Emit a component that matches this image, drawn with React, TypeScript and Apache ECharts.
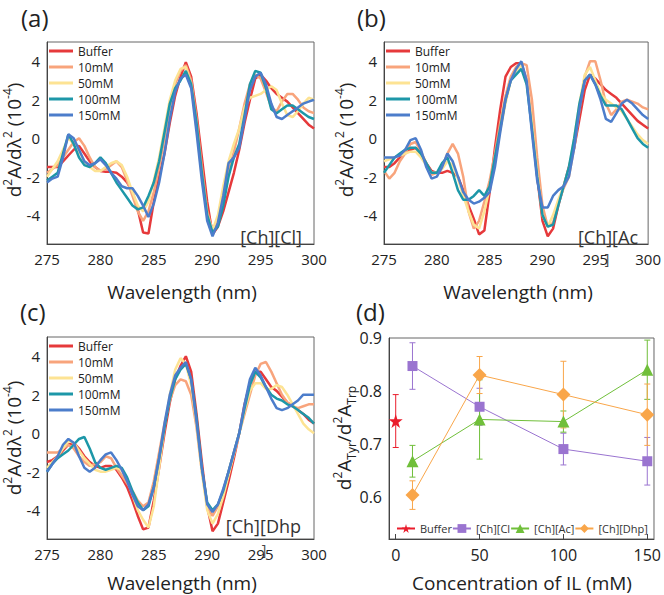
import React, { useEffect, useRef } from "react";
import * as echarts from "echarts";

// ---------- data ----------
const wavelengths = [
  275, 275.5, 276, 276.5, 277, 277.5, 278, 278.5, 279, 279.5,
  280, 280.5, 281, 281.5, 282, 282.5, 283, 283.5, 284, 284.5,
  285, 285.5, 286, 286.5, 287, 287.5, 288, 288.5, 289, 289.5,
  290, 290.5, 291, 291.5, 292, 292.5, 293, 293.5, 294, 294.5,
  295, 295.5, 296, 296.5, 297, 297.5, 298, 298.5, 299, 299.5,
  300,
];

const specNames = ["Buffer", "10mM", "50mM", "100mM", "150mM"];
const xTicks = [275, 280, 285, 290, 295, 300];
const yTicksSpec = [-4, -2, 0, 2, 4];

// Panel (a) [Ch][Cl]
const aBuffer = [
  -1.5, -1.5, -1.5, -1.2, -0.9, -0.6, -0.4, -0.8, -1.2, -1.5,
  -1.7, -1.75, -1.75, -1.8, -2.0, -2.3, -2.8, -3.7, -4.9, -4.95,
  -3.3, -2.0, -0.8, 0.8, 2.2, 3.2, 3.95, 3.2, 1.3, -1.0,
  -3.3, -5.0, -4.6, -3.8, -2.8, -1.8, -0.6, 0.8, 2.0, 3.1,
  3.3, 3.0, 2.6, 2.3, 2.1, 1.9, 1.6, 1.3, 1.0, 0.7,
  0.5,
];
const a10 = [
  -1.8, -1.6, -1.4, -1.0, -0.6, -0.2, 0.0, -0.4, -1.0, -1.5,
  -1.7, -1.6, -1.4, -1.2, -1.5, -2.2, -3.0, -3.8, -4.3, -3.8,
  -2.8, -1.5, 0.0, 1.6, 2.8, 3.5, 3.8, 3.0, 1.0, -1.5,
  -3.8, -4.8, -4.2, -3.0, -1.8, -0.7, 0.5, 1.8, 2.8, 3.3,
  3.1, 2.4, 1.6, 1.4, 1.9, 2.3, 2.3, 2.0, 1.6, 1.4,
  1.3,
];
const a50 = [
  -2.0, -1.6, -1.2, -0.6, 0.0, -0.3, -0.7, -1.2, -1.5, -1.7,
  -1.7, -1.5, -1.3, -1.2, -1.4, -2.0, -2.8, -3.5, -3.8, -3.3,
  -2.2, -1.0, 0.5, 2.0, 3.0, 3.6, 3.7, 2.8, 0.5, -2.0,
  -4.0, -4.8, -4.0, -2.5, -1.2, -0.3, 0.5, 1.6, 2.1, 2.2,
  2.3, 2.5, 2.7, 2.5, 1.8, 1.2, 1.1, 1.4, 1.8, 2.1,
  2.0,
];
const a100 = [
  -2.2, -2.0, -1.8, -0.8, 0.2, -0.3, -1.0, -1.4, -1.5, -1.3,
  -1.0, -1.3, -1.8, -2.3, -2.7, -3.1, -3.5, -3.7, -3.6, -3.0,
  -2.3, -1.2, 0.3, 1.8, 2.6, 3.0, 3.5, 2.8, 0.8, -1.8,
  -4.0, -4.9, -4.6, -3.5, -2.0, -1.0, -0.3, 1.2, 2.8, 3.5,
  3.4, 2.6, 1.5, 1.3, 1.5, 1.7, 1.7, 1.5, 1.3, 1.1,
  1.0,
];
const a150 = [
  -2.3, -2.1, -2.0, -1.0, 0.2, 0.0, -0.6, -1.2, -1.4, -1.3,
  -1.1, -1.4, -1.8, -2.1, -2.5, -2.6, -2.6, -3.0, -3.5, -4.1,
  -3.4, -2.3, -0.8, 1.0, 2.4, 3.1, 3.3, 2.6, 0.3, -2.2,
  -4.3, -5.1, -4.4, -3.0, -1.3, -1.0, -0.5, 1.0, 2.5, 3.2,
  3.4, 2.8, 1.8, 1.1, 1.0, 1.2, 1.4, 1.6, 1.8, 1.9,
  2.0,
];

// Panel (b) [Ch][Ac]
const bBuffer = [
  -1.5, -1.5, -1.3, -1.0, -0.8, -0.6, -0.5, -0.8, -1.3, -1.7,
  -1.8, -1.8, -1.7, -1.8, -2.0, -2.7, -3.5, -4.2, -5.0, -4.8,
  -2.8, -0.5, 1.5, 3.2, 3.7, 3.9, 3.9, 3.0, 0.8, -2.0,
  -4.3, -5.1, -4.7, -3.5, -2.5, -1.5, -0.5, 1.0, 2.5, 3.3,
  3.1, 2.8, 2.5, 2.3, 2.1, 1.8, 1.5, 1.2, 0.9, 0.7,
  0.5,
];
const b10 = [
  -1.7, -2.1, -1.8, -1.2, -0.8, -0.3, -0.2, -0.7, -1.3, -1.9,
  -1.8, -1.5, -0.8, -0.3, -0.8, -2.0, -3.8, -4.7, -4.3, -3.3,
  -2.2, -0.8, 0.8, 2.2, 3.2, 3.7, 3.9, 3.8, 2.0, -1.0,
  -3.5, -4.6, -4.4, -3.4, -2.6, -2.0, -0.5, 1.5, 3.2, 4.0,
  4.0, 3.0, 1.8, 1.2, 1.5, 1.9, 2.0, 1.9, 1.8, 1.6,
  1.5,
];
const b50 = [
  -1.2, -1.1, -1.0, -0.9, -0.8, -0.7, -0.7, -1.0, -1.4, -1.8,
  -1.8, -1.6, -1.2, -1.4, -2.1, -3.0, -3.8, -4.5, -4.7, -3.8,
  -2.6, -1.2, 0.4, 1.8, 3.0, 3.5, 3.8, 3.0, 0.8, -1.8,
  -4.0, -4.6, -4.0, -3.2, -2.5, -1.6, 0.0, 1.8, 3.3, 3.7,
  3.0, 2.3, 2.0, 1.8, 1.6, 1.4, 1.0, 0.6, 0.2, -0.1,
  -0.3,
];
const b100 = [
  -1.8, -1.4, -1.0, -0.8, -0.6, -0.5, -0.5, -0.8, -1.3, -1.8,
  -1.8, -1.3, -1.0, -1.8, -2.7, -3.2, -3.2, -3.0, -2.7, -3.0,
  -2.5, -1.0, 0.5, 2.0, 3.0, 3.3, 3.6, 2.8, 0.5, -2.0,
  -4.0, -4.6, -4.5, -3.5, -2.5, -1.5, 0.0, 1.8, 3.0, 3.3,
  2.8, 2.2, 1.7, 1.7, 1.7, 1.5, 1.0, 0.5, 0.0, -0.3,
  -0.5,
];
const b150 = [
  -1.0, -1.0, -1.0, -0.9, -0.6, -0.1, 0.0, -0.6, -1.5, -2.1,
  -2.0, -1.5, -0.8, -1.2, -2.0, -2.8, -3.2, -3.4, -3.3, -3.1,
  -2.8, -1.5, 0.3, 2.0, 3.0, 3.6, 4.0, 3.0, 0.3, -2.2,
  -3.6, -3.6, -3.0, -2.7, -2.5, -2.0, -0.5, 1.5, 3.0, 3.3,
  2.8, 2.0, 1.0, 0.85, 1.3, 1.8, 2.0, 1.8, 1.5, 1.2,
  1.0,
];

// Panel (c) [Ch][Dhp]
const cBuffer = [
  -1.5, -1.4, -1.2, -0.9, -0.6, -0.5, -0.8, -1.2, -1.5, -1.7,
  -1.8, -1.7, -1.7, -1.9, -2.3, -2.8, -3.5, -4.3, -5.0, -4.9,
  -3.5, -1.8, 0.0, 1.6, 2.8, 3.5, 4.0, 3.2, 1.0, -1.5,
  -3.8, -5.1, -4.7, -3.6, -2.5, -1.3, 0.0, 1.5, 2.6, 3.2,
  3.2, 2.8, 2.4, 2.2, 1.9, 1.6, 1.4, 1.2, 1.0, 0.7,
  0.5,
];
const c10 = [
  -1.0, -1.0, -1.0, -0.8, -0.6, -0.8, -1.2, -1.5, -1.7, -1.6,
  -1.5, -1.2, -1.3, -1.8, -2.2, -2.6, -3.0, -3.5, -3.8, -3.6,
  -2.5, -1.0, 0.5, 1.7, 2.5, 2.8, 2.7, 2.0, 0.3, -2.0,
  -3.8, -4.3, -3.8, -3.0, -2.0, -1.0, 0.0, 1.0, 2.0, 3.0,
  3.6, 3.7, 3.2, 2.6, 2.0, 1.6, 1.4, 1.3, 1.4, 1.5,
  1.5,
];
const c50 = [
  -1.8, -1.5, -1.2, -0.8, -0.4, -0.5, -0.9, -1.3, -1.6, -1.9,
  -2.0, -2.0, -1.9, -1.8, -1.9, -2.4, -3.2, -4.0, -4.5, -4.9,
  -3.8, -1.8, 0.3, 2.0, 3.3, 3.9, 3.6, 2.5, 0.5, -2.0,
  -4.0, -4.7, -4.2, -3.3, -2.2, -1.1, 0.0, 1.2, 2.2, 2.6,
  2.6, 2.3, 2.3, 2.5, 2.4, 2.0, 1.5, 1.0, 0.5, 0.2,
  0.0,
];
const c100 = [
  -2.0, -1.6, -1.3, -1.1, -0.9, -0.6, -0.3, -0.2, -0.8, -1.5,
  -1.8, -1.9, -1.8, -1.7, -1.8, -2.3, -3.0, -3.6, -4.0, -3.8,
  -2.8, -1.3, 0.3, 1.8, 2.8, 3.3, 3.6, 2.8, 0.8, -1.8,
  -3.6, -4.0, -3.7, -3.0, -2.0, -1.0, 0.0, 1.3, 2.5, 3.2,
  2.9, 2.4, 2.0, 1.8, 1.7, 1.5, 1.4, 1.2, 1.0, 0.8,
  0.5,
];
const c150 = [
  -2.0, -1.6, -1.2, -0.6, -0.3, -0.5, -1.2, -1.8, -2.0, -1.8,
  -1.4, -1.1, -1.0, -1.4, -1.9, -2.5, -3.2, -3.8, -4.0, -3.7,
  -2.8, -1.3, 0.5, 2.0, 3.0, 3.4, 3.7, 2.8, 0.6, -1.8,
  -3.7, -4.1, -3.7, -2.9, -2.0, -1.0, 0.0, 1.5, 2.8, 3.4,
  3.0, 2.4, 1.8, 1.3, 1.2, 1.3, 1.5, 1.7, 2.0, 2.0,
  2.0,
];

// Panel (d)
const concentrations = [10, 50, 100, 150];
const dTicksX = [0, 50, 100, 150];
const dTicksY = [0.6, 0.7, 0.8, 0.9];
const bufferConc = [0];
const bufferRatio = [0.743];
const bufferErr = [0.05];
const clRatio = [0.847, 0.77, 0.69, 0.667];
const clErr = [0.044, 0.035, 0.03, 0.045];
const acRatio = [0.667, 0.746, 0.742, 0.84];
const acErr = [0.03, 0.075, 0.02, 0.056];
const dhpRatio = [0.603, 0.83, 0.793, 0.755];
const dhpErr = [0.027, 0.035, 0.063, 0.058];

// ---------- style ----------
const FONT = "'Open Sans', 'Noto Sans', sans-serif";
const specColors = ["#e6393b", "#f8a47c", "#fde393", "#1d97a8", "#4c7dcb"];
const cRed = "#ea1d2c";
const cPurple = "#9a74d0";
const cGreen = "#70bf3a";
const cOrange = "#f9a64a";
const STAR =
  "path://M12,0 L14.8,8.6 L24,8.6 L16.6,14 L19.4,22.8 L12,17.4 L4.6,22.8 L7.4,14 L0,8.6 L9.2,8.6 Z";
const LINE_ICON = "path://M0,0 L24,0 L24,3 L0,3 Z";

const grids = [
  { left: 47, top: 42, width: 267, height: 202 },
  { left: 384, top: 42, width: 268, height: 202 },
  { left: 47, top: 337, width: 267, height: 202 },
  { left: 389, top: 338, width: 266, height: 201 },
];

function pairs(vals: number[]) {
  return wavelengths.map((w, i) => [w, vals[i]]);
}

function errSeries(name: string, xs: number[], ys: number[], es: number[], color: string) {
  return {
    name,
    type: "custom",
    xAxisIndex: 3,
    yAxisIndex: 3,
    z: 2,
    encode: { x: 0, y: [1, 2] },
    data: xs.map((x, i) => [x, ys[i] - es[i], ys[i] + es[i]]),
    renderItem: (_p: any, api: any) => {
      const x = api.value(0);
      const p1 = api.coord([x, api.value(1)]);
      const p2 = api.coord([x, api.value(2)]);
      const w = 3;
      const style = { stroke: color, lineWidth: 1, fill: "none" };
      return {
        type: "group",
        children: [
          { type: "line", shape: { x1: p1[0], y1: p1[1], x2: p2[0], y2: p2[1] }, style },
          { type: "line", shape: { x1: p1[0] - w, y1: p1[1], x2: p1[0] + w, y2: p1[1] }, style },
          { type: "line", shape: { x1: p2[0] - w, y1: p2[1], x2: p2[0] + w, y2: p2[1] }, style },
        ],
      };
    },
  };
}

const specRich = {
  m: { fontSize: 19, fontFamily: FONT, fill: "#222", lineHeight: 26 },
  s: { fontSize: 12, fontFamily: FONT, fill: "#222", lineHeight: 16, verticalAlign: "top" },
};
const ratioRich = {
  m: { fontSize: 19, fontFamily: FONT, fill: "#222", lineHeight: 26 },
  s: { fontSize: 12, fontFamily: FONT, fill: "#222", lineHeight: 16, verticalAlign: "top" },
  b: { fontSize: 12, fontFamily: FONT, fill: "#222", lineHeight: 14, verticalAlign: "bottom" },
};

function txt(text: string, x: number, y: number, size: number, align = "center", extra: any = {}) {
  return {
    type: "text",
    x,
    y,
    silent: true,
    style: {
      text,
      fontSize: size,
      fontFamily: FONT,
      fill: "#222",
      align,
      verticalAlign: "middle",
      ...extra,
    },
  };
}

function rotName(text: string, rich: any, x: number, y: number) {
  return {
    type: "text",
    x,
    y,
    rotation: Math.PI / 2,
    silent: true,
    style: { text, rich, align: "center", verticalAlign: "middle", fontFamily: FONT, fill: "#222" },
  };
}

export default function App() {
  const ref = useRef<HTMLDivElement>(null);
  useEffect(() => {
    if (!ref.current) return;
    const chart = echarts.init(ref.current, undefined, { renderer: "svg" });

    const specSets = [
      [aBuffer, a10, a50, a100, a150],
      [bBuffer, b10, b50, b100, b150],
      [cBuffer, c10, c50, c100, c150],
    ];

    const axisLine = { show: true, onZero: false, lineStyle: { color: "#444", width: 1 } };

    const xAxis: any[] = [0, 1, 2].map((i) => ({
      type: "value",
      gridIndex: i,
      min: 275,
      max: 300,
      interval: 5,
      axisLine,
      axisTick: { show: false },
      splitLine: { show: false },
      axisLabel: { customValues: xTicks, fontSize: 15, color: "#222", fontFamily: FONT, margin: 7 },
    }));
    xAxis.push({
      type: "value",
      gridIndex: 3,
      min: -4,
      max: 154,
      axisLine,
      axisTick: { show: true, inside: true, length: 5, customValues: dTicksX, lineStyle: { color: "#444" } },
      splitLine: { show: false },
      axisLabel: { customValues: dTicksX, fontSize: 16, color: "#222", fontFamily: FONT, margin: 8 },
    });

    const yAxis: any[] = [0, 1, 2].map((i) => ({
      type: "value",
      gridIndex: i,
      min: -5.5,
      max: 5,
      axisLine,
      axisTick: { show: false },
      splitLine: { show: false },
      axisLabel: { customValues: yTicksSpec, fontSize: 15, color: "#222", fontFamily: FONT, margin: 7 },
    }));
    yAxis.push({
      type: "value",
      gridIndex: 3,
      min: 0.52,
      max: 0.9,
      axisLine,
      axisTick: { show: false },
      splitLine: { show: false },
      axisLabel: {
        customValues: dTicksY,
        fontSize: 16,
        color: "#222",
        fontFamily: FONT,
        margin: 7,
        formatter: (v: number) => v.toFixed(1),
      },
    });

    const series: any[] = [];
    specSets.forEach((set, p) => {
      set.forEach((vals, k) => {
        series.push({
          name: specNames[k],
          type: "line",
          xAxisIndex: p,
          yAxisIndex: p,
          symbol: "none",
          color: specColors[k],
          lineStyle: { width: 2.5, color: specColors[k] },
          data: pairs(vals),
          z: 2 + k,
        });
      });
    });

    series.push(errSeries("errBuffer", bufferConc, bufferRatio, bufferErr, cRed));
    series.push(errSeries("errCl", concentrations, clRatio, clErr, cPurple));
    series.push(errSeries("errAc", concentrations, acRatio, acErr, cGreen));
    series.push(errSeries("errDhp", concentrations, dhpRatio, dhpErr, cOrange));

    const dLine = (name: string, ys: number[], color: string, symbol: string, size: number) => ({
      name,
      type: "line",
      xAxisIndex: 3,
      yAxisIndex: 3,
      symbol,
      symbolSize: size,
      showAllSymbol: true,
      color,
      itemStyle: { color },
      lineStyle: { width: 1, color },
      data: concentrations.map((c, i) => [c, ys[i]]),
      z: 4,
    });
    series.push({
      name: "Buffer(d)",
      type: "line",
      xAxisIndex: 3,
      yAxisIndex: 3,
      symbol: STAR,
      symbolSize: 14,
      color: cRed,
      itemStyle: { color: cRed },
      lineStyle: { width: 1, color: cRed },
      data: bufferConc.map((c, i) => [c, bufferRatio[i]]),
      z: 4,
    });
    series.push(dLine("[Ch][Cl", clRatio, cPurple, "rect", 10));
    series.push(dLine("[Ch][Ac]", acRatio, cGreen, "triangle", 12));
    series.push(dLine("[Ch][Dhp]", dhpRatio, cOrange, "diamond", 14));

    const specLegend = (i: number) => ({
      orient: "vertical",
      left: grids[i].left + 2,
      top: grids[i].top + 3,
      padding: 0,
      itemWidth: 24,
      itemHeight: 14,
      itemGap: 4,
      icon: LINE_ICON,
      selectedMode: false,
      data: specNames,
      textStyle: { fontSize: 12, fontFamily: FONT, color: "#222" },
    });

    const option: any = {
      animation: false,
      backgroundColor: "#fff",
      grid: grids.map((g) => ({ ...g, show: true, borderColor: "#666", borderWidth: 1, backgroundColor: "transparent" })),
      xAxis,
      yAxis,
      legend: [
        specLegend(0),
        specLegend(1),
        specLegend(2),
        {
          orient: "horizontal",
          left: 396,
          top: 523,
          padding: 0,
          itemWidth: 18,
          itemHeight: 11,
          itemGap: 0,
          selectedMode: false,
          data: ["Buffer(d)", "[Ch][Cl", "[Ch][Ac]", "[Ch][Dhp]"],
          formatter: (n: string) => n.replace("(d)", ""),
          textStyle: { fontSize: 11, fontFamily: FONT, color: "#333" },
        },
      ],
      series,
      graphic: [
        txt("(a)", 21, 17, 24, "left"),
        txt("(b)", 357, 17, 24, "left"),
        txt("(c)", 20, 311, 24, "left"),
        txt("(d)", 356, 311, 24, "left"),
        txt("Wavelength (nm)", 182, 292, 19),
        txt("Wavelength (nm)", 518, 292, 19),
        txt("Wavelength (nm)", 182, 583, 19),
        txt("Concentration of IL (mM)", 522, 583, 19),
        txt("[Ch][Cl]", 302, 237, 18, "right", { fill: "#333" }),
        txt("[Ch][Ac", 638, 237, 18, "right", { fill: "#333" }),
        txt("[Ch][Dhp", 301, 526, 18, "right", { fill: "#333" }),
        txt("]", 607, 258, 14, "center", { fill: "#444" }),
        txt("]", 264, 549, 14, "center", { fill: "#444" }),
        rotName("{m|d}{s|2}{m|A/dλ}{s|2}{m| (10}{s|-4}{m|)}", specRich, 14, 140),
        rotName("{m|d}{s|2}{m|A/dλ}{s|2}{m| (10}{s|-4}{m|)}", specRich, 346, 140),
        rotName("{m|d}{s|2}{m|A/dλ}{s|2}{m| (10}{s|-4}{m|)}", specRich, 14, 438),
        rotName("{m|d}{s|2}{m|A}{b|Tyr}{m|/d}{s|2}{m|A}{b|Trp}", ratioRich, 344, 438),
      ],
    };

    chart.setOption(option);
    return () => chart.dispose();
  }, []);

  return (
    <div
      ref={ref}
      style={{ position: "absolute", left: 0, top: 0, width: 664, height: 595, background: "#fff" }}
    />
  );
}
